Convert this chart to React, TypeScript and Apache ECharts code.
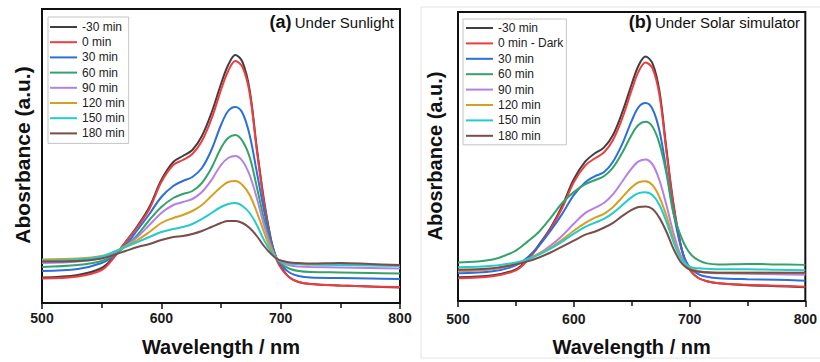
import React, { useEffect, useRef } from "react";
import * as echarts from "echarts";

// Wavelength grid (nm)
const wavelengths = [500, 530, 550, 560, 570, 580, 590, 600, 610, 618, 626, 634, 642, 650, 656, 662, 668, 674, 680, 686, 692, 697, 702, 708, 715, 725, 750, 775, 800];

// Tick labels for x axis
const xTicks = [500, 600, 700, 800];

// (a) Under Sunlight – absorbance (a.u.)
const sunNames = ["-30 min", "0 min", "30 min", "60 min", "90 min", "120 min", "150 min", "180 min"];
const sunM30 = [0.255, 0.28, 0.35, 0.46, 0.61, 0.77, 0.96, 1.23, 1.41, 1.47, 1.53, 1.67, 1.9, 2.19, 2.38, 2.48, 2.41, 2.13, 1.55, 1.03, 0.63, 0.43, 0.33, 0.25, 0.21, 0.19, 0.175, 0.165, 0.155];
const sun0 = [0.245, 0.265, 0.33, 0.45, 0.61, 0.76, 0.94, 1.21, 1.38, 1.43, 1.49, 1.62, 1.84, 2.13, 2.32, 2.42, 2.36, 2.1, 1.53, 1.01, 0.62, 0.42, 0.32, 0.25, 0.21, 0.19, 0.175, 0.165, 0.16];
const sun30 = [0.32, 0.34, 0.4, 0.47, 0.58, 0.73, 0.89, 1.06, 1.17, 1.22, 1.26, 1.35, 1.53, 1.78, 1.92, 1.96, 1.9, 1.68, 1.31, 0.93, 0.61, 0.44, 0.36, 0.3, 0.27, 0.255, 0.25, 0.245, 0.24];
const sun60 = [0.36, 0.38, 0.42, 0.48, 0.57, 0.68, 0.83, 0.96, 1.05, 1.09, 1.12, 1.2, 1.35, 1.55, 1.65, 1.68, 1.62, 1.46, 1.16, 0.84, 0.58, 0.44, 0.38, 0.34, 0.32, 0.31, 0.305, 0.3, 0.295];
const sun90 = [0.4, 0.415, 0.45, 0.5, 0.57, 0.66, 0.78, 0.9, 0.98, 1.01, 1.04, 1.11, 1.23, 1.38, 1.45, 1.47, 1.42, 1.28, 1.05, 0.78, 0.56, 0.44, 0.4, 0.375, 0.365, 0.36, 0.355, 0.35, 0.345];
const sun120 = [0.435, 0.445, 0.47, 0.51, 0.57, 0.63, 0.71, 0.8, 0.85, 0.88, 0.92, 0.98, 1.07, 1.16, 1.21, 1.22, 1.18, 1.08, 0.91, 0.71, 0.53, 0.44, 0.41, 0.395, 0.39, 0.385, 0.385, 0.38, 0.38];
const sun150 = [0.425, 0.435, 0.465, 0.51, 0.56, 0.61, 0.66, 0.71, 0.74, 0.76, 0.79, 0.84, 0.9, 0.96, 0.99, 1.0, 0.97, 0.9, 0.78, 0.63, 0.51, 0.44, 0.41, 0.395, 0.39, 0.385, 0.38, 0.375, 0.37];
const sun180 = [0.415, 0.42, 0.445, 0.48, 0.52, 0.56, 0.59, 0.63, 0.66, 0.67, 0.69, 0.72, 0.76, 0.8, 0.82, 0.82, 0.8, 0.75, 0.67, 0.57, 0.49, 0.44, 0.42, 0.405, 0.4, 0.395, 0.4, 0.39, 0.38];

// (b) Under Solar simulator – absorbance (a.u.)
const solNames = ["-30 min", "0 min - Dark", "30 min", "60 min", "90 min", "120 min", "150 min", "180 min"];
const solM30 = [0.24, 0.26, 0.32, 0.42, 0.57, 0.74, 0.96, 1.23, 1.41, 1.49, 1.55, 1.68, 1.91, 2.19, 2.38, 2.47, 2.4, 2.12, 1.54, 0.99, 0.59, 0.38, 0.29, 0.23, 0.2, 0.18, 0.16, 0.15, 0.14];
const sol0 = [0.23, 0.25, 0.31, 0.41, 0.56, 0.73, 0.94, 1.2, 1.37, 1.44, 1.5, 1.63, 1.85, 2.13, 2.32, 2.41, 2.35, 2.08, 1.51, 0.97, 0.58, 0.38, 0.29, 0.23, 0.2, 0.18, 0.165, 0.155, 0.145];
const sol30 = [0.28, 0.3, 0.36, 0.44, 0.56, 0.71, 0.88, 1.07, 1.2, 1.26, 1.3, 1.41, 1.59, 1.82, 1.96, 2.0, 1.94, 1.72, 1.32, 0.9, 0.57, 0.4, 0.32, 0.27, 0.245, 0.23, 0.22, 0.215, 0.205];
const sol60 = [0.39, 0.42, 0.51, 0.6, 0.7, 0.84, 0.99, 1.1, 1.18, 1.22, 1.26, 1.35, 1.5, 1.68, 1.78, 1.81, 1.76, 1.59, 1.29, 0.89, 0.67, 0.54, 0.46, 0.41, 0.38, 0.37, 0.375, 0.37, 0.365];
const sol90 = [0.3, 0.32, 0.37, 0.42, 0.48, 0.56, 0.66, 0.78, 0.89, 0.94, 0.99, 1.08, 1.21, 1.34, 1.41, 1.43, 1.38, 1.22, 0.97, 0.69, 0.47, 0.37, 0.33, 0.3, 0.285, 0.28, 0.275, 0.27, 0.265];
const sol120 = [0.305, 0.325, 0.38, 0.42, 0.48, 0.54, 0.62, 0.71, 0.79, 0.84, 0.88, 0.95, 1.05, 1.15, 1.2, 1.21, 1.17, 1.05, 0.86, 0.63, 0.45, 0.36, 0.32, 0.3, 0.29, 0.285, 0.285, 0.285, 0.28];
const sol150 = [0.34, 0.355, 0.39, 0.42, 0.47, 0.53, 0.6, 0.68, 0.75, 0.79, 0.83, 0.89, 0.97, 1.05, 1.09, 1.1, 1.07, 0.97, 0.8, 0.6, 0.44, 0.37, 0.34, 0.33, 0.325, 0.32, 0.32, 0.315, 0.31];
const sol180 = [0.315, 0.33, 0.37, 0.4, 0.44, 0.49, 0.55, 0.61, 0.67, 0.7, 0.74, 0.79, 0.86, 0.92, 0.95, 0.955, 0.93, 0.84, 0.7, 0.53, 0.4, 0.34, 0.31, 0.295, 0.29, 0.285, 0.285, 0.285, 0.285];

const colors = ["#3f3f3f", "#f03c3c", "#2b6fdc", "#33a36a", "#b67fe6", "#d4a020", "#22cccc", "#7a4c4a"];

const FONT = '"Liberation Sans", Arial, Helvetica, sans-serif';

const sunData = [sunM30, sun0, sun30, sun60, sun90, sun120, sun150, sun180];
const solData = [solM30, sol0, sol30, sol60, sol90, sol120, sol150, sol180];

const LEGEND_ICON = "path://M0,0L27,0L27,2L0,2Z";

function makeSeries(names: string[], data: number[][], idx: number) {
  return names.map((name, i) => ({
    name,
    type: "line",
    xAxisIndex: idx,
    yAxisIndex: idx,
    symbol: "none",
    smooth: 0.35,
    color: colors[i],
    lineStyle: { width: 2, color: colors[i] },
    data: wavelengths.map((w, k) => [w, data[i][k]]),
  }));
}

function xAxisCfg(gridIndex: number, margin: number, nameGap: number) {
  return {
    gridIndex,
    type: "value",
    min: 500,
    max: 800,
    interval: 100,
    name: "Wavelength / nm",
    nameLocation: "middle",
    nameGap,
    nameTextStyle: { fontSize: 20, fontWeight: "bold", color: "#111", fontFamily: FONT },
    axisLine: { show: true, lineStyle: { color: "#111", width: 2 } },
    axisTick: { show: true, inside: false, length: 6, lineStyle: { color: "#111", width: 1.5 } },
    minorTick: { show: true, splitNumber: 2, length: 5, lineStyle: { color: "#111", width: 1.5 } },
    splitLine: { show: false },
    axisLabel: {
      margin,
      fontSize: 14,
      fontWeight: "bold",
      color: "#1a1a1a",
      fontFamily: FONT,
      formatter: (v: number) => (xTicks.includes(v) ? String(v) : ""),
    },
  };
}

function yAxisCfg(gridIndex: number, max: number) {
  return {
    gridIndex,
    type: "value",
    min: 0,
    max,
    axisLine: { show: true, lineStyle: { color: "#111", width: 2 } },
    axisTick: { show: false },
    axisLabel: { show: false },
    splitLine: { show: false },
  };
}

export default function App() {
  const ref = useRef<HTMLDivElement>(null);
  useEffect(() => {
    document.body.style.margin = "0";
    if (!ref.current) return;
    const chart = echarts.init(ref.current, undefined, { renderer: "svg" });
    const legendBase = {
      orient: "vertical",
      itemWidth: 27,
      itemHeight: 12,
      icon: LEGEND_ICON,
      symbolKeepAspect: true,
      borderColor: "#c4c4c4",
      borderWidth: 1,
      backgroundColor: "#ffffff",
      selectedMode: false,
      textStyle: { fontSize: 12, color: "#222", fontFamily: FONT },
    };
    const option = {
      animation: false,
      backgroundColor: "#ffffff",
      grid: [
        { left: 42, top: 9, width: 358, height: 294, show: true, borderColor: "#111", borderWidth: 2, backgroundColor: "transparent" },
        { left: 458, top: 12, width: 350, height: 292, show: true, borderColor: "#111", borderWidth: 2, backgroundColor: "transparent" },
      ],
      xAxis: [xAxisCfg(0, 8, 34), xAxisCfg(1, 11, 36)],
      yAxis: [yAxisCfg(0, 2.94), yAxisCfg(1, 2.92)],
      legend: [
        { ...legendBase, left: 48, top: 17, data: sunNames, itemGap: 3.2, padding: [4, 4, 4, 2] },
        { ...legendBase, left: 463, top: 19, data: solNames, itemGap: 3.4, padding: [3, 3, 3, 3] },
      ],
      graphic: [
        {
          type: "rect",
          z: -10,
          shape: { x: 421, y: 7, width: 410, height: 351 },
          style: { fill: "none", stroke: "#e2e2e2", lineWidth: 1 },
        },
        {
          type: "text",
          x: 22,
          y: 155,
          rotation: Math.PI / 2,
          style: { text: "Abosrbance (a.u.)", font: `bold 21px ${FONT}`, fill: "#111", align: "center", verticalAlign: "middle" },
        },
        {
          type: "text",
          x: 435,
          y: 156,
          rotation: Math.PI / 2,
          style: { text: "Abosrbance (a.u.)", font: `bold 20px ${FONT}`, fill: "#111", align: "center", verticalAlign: "middle" },
        },
        {
          type: "text",
          x: 394,
          y: 22,
          style: {
            text: "{b|(a)} {n|Under Sunlight}",
            align: "right",
            verticalAlign: "middle",
            rich: {
              b: { font: `bold 18px ${FONT}`, fill: "#111" },
              n: { font: `15px ${FONT}`, fill: "#111" },
            },
          },
        },
        {
          type: "text",
          x: 800,
          y: 22,
          style: {
            text: "{b|(b)} {n|Under Solar simulator}",
            align: "right",
            verticalAlign: "middle",
            rich: {
              b: { font: `bold 18px ${FONT}`, fill: "#111" },
              n: { font: `15px ${FONT}`, fill: "#111" },
            },
          },
        },
      ],
      series: [...makeSeries(sunNames, sunData, 0), ...makeSeries(solNames, solData, 1)],
    };
    chart.setOption(option as any);
    return () => chart.dispose();
  }, []);
  return <div ref={ref} style={{ width: 820, height: 362 }} />;
}
